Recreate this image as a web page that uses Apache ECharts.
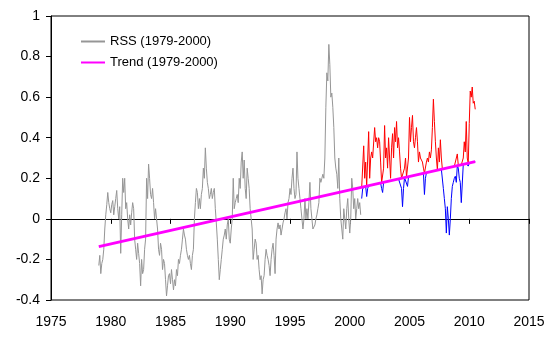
<!DOCTYPE html>
<html><head><meta charset="utf-8">
<script src="https://cdn.jsdelivr.net/npm/echarts@6/dist/echarts.min.js"></script>
<style>html,body{margin:0;padding:0;background:#fff}#c{width:556px;height:343px}</style>
</head><body><div id="c"></div>
<script>
// Monthly anomalies, first value = January of the start year
const rssStartYear = 1979;
const rss1979to2000 = [
  -0.23,-0.18,-0.27,-0.22,-0.20,-0.15,-0.05, 0.02, 0.07, 0.13, 0.08, 0.05, // 1979
   0.03, 0.07, 0.09, 0.02, 0.06, 0.10, 0.14, 0.05, 0.00, 0.06,-0.17, 0.02, // 1980
   0.20, 0.13, 0.20, 0.05, 0.08, 0.00,-0.05, 0.02,-0.03, 0.03, 0.08, 0.05, // 1981
  -0.10,-0.15,-0.20,-0.12,-0.17,-0.22,-0.33,-0.20,-0.27,-0.25,-0.15,-0.10, // 1982
   0.20, 0.10, 0.27, 0.20, 0.12, 0.10, 0.15, 0.08, 0.00, 0.05, 0.00,-0.05, // 1983
  -0.15,-0.18,-0.12,-0.15,-0.25,-0.20,-0.22,-0.30,-0.38,-0.33,-0.28,-0.27, // 1984
  -0.32,-0.25,-0.30,-0.35,-0.30,-0.33,-0.25,-0.28,-0.20,-0.22,-0.18,-0.15, // 1985
  -0.10,-0.05,-0.08,-0.10,-0.15,-0.18,-0.20,-0.18,-0.22,-0.25,-0.18,-0.15, // 1986
   0.00, 0.08, 0.15, 0.13, 0.05, 0.10, 0.05, 0.12, 0.15, 0.25, 0.20, 0.35, // 1987
   0.25, 0.18, 0.15, 0.10, 0.12, 0.15, 0.10, 0.13, 0.15, 0.05,-0.02,-0.10, // 1988
  -0.20,-0.30,-0.25,-0.20,-0.15,-0.10,-0.08,-0.05,-0.10,-0.03, 0.00,-0.10, // 1989
  -0.12,-0.05, 0.00, 0.20, 0.05, 0.08, 0.10, 0.12, 0.08, 0.20, 0.15, 0.28, // 1990
   0.33, 0.20, 0.29, 0.15, 0.10, 0.25, 0.20, 0.15, 0.05, 0.00,-0.05,-0.20, // 1991
  -0.15,-0.10,-0.12,-0.20,-0.18,-0.25,-0.30,-0.28,-0.37,-0.30,-0.28,-0.20, // 1992
  -0.15,-0.18,-0.20,-0.23,-0.28,-0.20,-0.15,-0.12,-0.18,-0.27,-0.10,-0.05, // 1993
  -0.02,-0.05,-0.03,-0.08,-0.05,-0.02, 0.00, 0.03, 0.05, 0.00, 0.08, 0.10, // 1994
   0.15, 0.12, 0.20, 0.25, 0.15, 0.10, 0.12, 0.33, 0.20, 0.15, 0.10, 0.05, // 1995
   0.05,-0.05, 0.00, 0.10, 0.00, 0.05, 0.00, 0.08, 0.18, 0.05, 0.00,-0.05, // 1996
  -0.05,-0.03, 0.00, 0.02, 0.05, 0.08, 0.20, 0.18, 0.20, 0.22, 0.20, 0.30, // 1997
   0.55, 0.72, 0.68, 0.86, 0.76, 0.60, 0.62, 0.55, 0.45, 0.30, 0.25, 0.22, // 1998
   0.15, 0.30, 0.10, 0.00,-0.05,-0.10, 0.05, 0.00,-0.05, 0.05, 0.10, 0.00, // 1999
  -0.07, 0.00, 0.20, 0.15, 0.05, 0.10, 0.00, 0.05, 0.10, 0.05, 0.08, 0.02  // 2000
];
const recentStartYear = 2001;
const rss2001to2010 = [
   0.10, 0.15, 0.36, 0.20, 0.28, 0.11, 0.15, 0.43, 0.20, 0.30, 0.33, 0.30, // 2001
   0.30, 0.45, 0.38, 0.40, 0.35, 0.40, 0.38, 0.28, 0.15, 0.13, 0.25, 0.46, // 2002
   0.30, 0.35, 0.25, 0.40, 0.30, 0.20, 0.35, 0.42, 0.30, 0.45, 0.38, 0.48, // 2003
   0.35, 0.40, 0.33, 0.25, 0.15, 0.06, 0.15, 0.25, 0.30, 0.20, 0.16, 0.30, // 2004
   0.50, 0.38, 0.45, 0.51, 0.38, 0.35, 0.40, 0.45, 0.38, 0.28, 0.33, 0.30, // 2005
   0.29, 0.28, 0.25, 0.12, 0.20, 0.28, 0.30, 0.28, 0.33, 0.30, 0.34, 0.45, // 2006
   0.59, 0.48, 0.38, 0.30, 0.24, 0.35, 0.28, 0.39, 0.30, 0.24, 0.15, 0.10, // 2007
   0.05,-0.07, 0.06, 0.00,-0.08, 0.00, 0.10, 0.16, 0.18, 0.20, 0.21, 0.18, // 2008
   0.32, 0.25, 0.20, 0.18, 0.08, 0.08, 0.30, 0.38, 0.33, 0.48, 0.30, 0.26, // 2009
   0.47, 0.63, 0.60, 0.65, 0.57, 0.58, 0.54                                // 2010
];
const trendYears = [1979.0, 2010.5];
const trendValues = [-0.137, 0.282];
const legendNames = ['RSS (1979-2000)', 'Trend (1979-2000)'];

const toPoints = (arr, y0) => arr.map((v, i) => [y0 + i / 12, v]);
const trendAt = t => trendValues[0] + (trendValues[1] - trendValues[0]) * (t - trendYears[0]) / (trendYears[1] - trendYears[0]);
const grayPts = toPoints(rss1979to2000, rssStartYear);
const recentPts = toPoints(rss2001to2010, recentStartYear);
const abovePts = recentPts.map(([t, v]) => [t, Math.max(v, trendAt(t))]);
const belowPts = recentPts.map(([t, v]) => [t, Math.min(v, trendAt(t))]);
const trendPts = trendYears.map((t, i) => [t, trendValues[i]]);

const FONT = 'Liberation Sans';
const chart = echarts.init(document.getElementById('c'), null, {renderer: 'canvas'});
chart.setOption({
  animation: false,
  backgroundColor: '#fff',
  textStyle: {fontFamily: FONT},
  grid: {left: 51, right: 27, top: 16, bottom: 43, show: true, borderColor: '#000', borderWidth: 1, containLabel: false},
  legend: {
    data: legendNames, orient: 'vertical', left: 75, top: 30, itemWidth: 24, itemHeight: 14, itemGap: 8,
    textStyle: {fontSize: 13, color: '#000', fontFamily: FONT}, itemStyle: {opacity: 0}
  },
  xAxis: {
    type: 'value', min: 1975, max: 2015, interval: 5,
    axisLine: {lineStyle: {color: '#000', width: 1}},
    axisTick: {show: true, inside: false, length: 5, lineStyle: {color: '#000'}},
    axisLabel: {color: '#000', fontSize: 14, margin: 15, fontFamily: FONT, formatter: v => String(v)},
    splitLine: {show: false}
  },
  yAxis: {
    type: 'value', min: -0.4, max: 1, interval: 0.2,
    axisLine: {show: true, lineStyle: {color: '#000', width: 1}},
    axisTick: {show: true, inside: false, length: 5, lineStyle: {color: '#000'}},
    axisLabel: {color: '#000', fontSize: 14, margin: 11, fontFamily: FONT, formatter: v => String(Math.round(v * 10) / 10)},
    splitLine: {show: false}
  },
  series: [
    {name: legendNames[0], type: 'line', data: grayPts, symbol: 'none', lineStyle: {color: '#969696', width: 1}, itemStyle: {color: '#969696'}, z: 2},
    {name: 'above', type: 'line', data: abovePts, symbol: 'none', lineStyle: {color: '#ff0000', width: 1}, itemStyle: {color: '#ff0000'}, z: 3},
    {name: 'below', type: 'line', data: belowPts, symbol: 'none', lineStyle: {color: '#0000ff', width: 1}, itemStyle: {color: '#0000ff'}, z: 3},
    {name: legendNames[1], type: 'line', data: trendPts, symbol: 'none', lineStyle: {color: '#ff00ff', width: 3}, itemStyle: {color: '#ff00ff'}, z: 5}
  ]
});
</script></body></html>
